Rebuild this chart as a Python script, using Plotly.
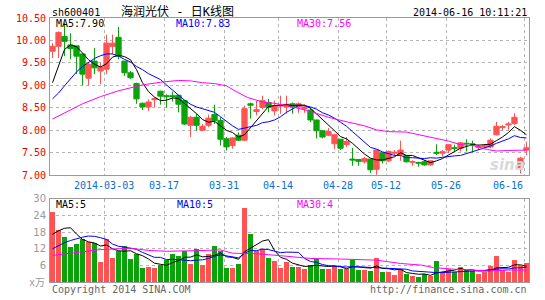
import plotly.graph_objects as go

# ---------------- data ----------------
idx = list(range(1, 81))

opens = [9.76, 9.87, 10.09, 9.90, 9.88, 9.70, 9.16, 9.54, 9.32, 9.36,
         9.87, 10.07, 9.54, 9.28, 9.04, 8.60, 8.52, 8.68, 8.87, 8.77,
         8.77, 8.78, 8.66, 8.11, 8.29, 8.00, 8.11, 8.35, 8.22, 7.81,
         7.66, 7.89, 7.78, 8.59, 8.42, 8.51, 8.62, 8.43, 8.54, 8.52,
         8.59, 8.52, 8.48, 8.45, 8.23, 7.99, 7.89, 7.70, 7.80, 7.68,
         7.36, 7.35, 7.30, 7.36, 7.13, 7.50, 7.32, 7.49, 7.46, 7.44,
         7.29, 7.28, 7.30, 7.23, 7.51, 7.49, 7.56, 7.61, 7.60, 7.71,
         7.70, 7.62, 7.63, 7.63, 7.90, 8.06, 8.12, 8.15, 7.16, 7.56]

closes = [9.87, 10.18, 9.98, 9.82, 9.65, 9.25, 9.47, 9.39, 9.41, 9.94,
          9.94, 9.65, 9.28, 9.17, 8.70, 8.52, 8.63, 8.70, 8.76, 8.75,
          8.75, 8.58, 8.14, 8.29, 8.11, 8.09, 8.27, 8.22, 7.80, 7.63,
          7.83, 7.78, 8.48, 8.56, 8.46, 8.66, 8.51, 8.55, 8.57, 8.58,
          8.52, 8.59, 8.52, 8.23, 7.99, 7.85, 7.97, 7.90, 7.60, 7.75,
          7.34, 7.31, 7.37, 7.12, 7.56, 7.32, 7.53, 7.51, 7.56, 7.30,
          7.30, 7.27, 7.23, 7.32, 7.49, 7.52, 7.68, 7.60, 7.72, 7.70,
          7.68, 7.64, 7.65, 7.78, 8.09, 8.08, 8.14, 8.29, 7.38, 7.61]

highs = [9.94, 10.20, 10.40, 10.16, 9.88, 9.70, 9.50, 9.83, 9.50, 10.13,
         10.13, 10.30, 9.54, 9.32, 9.06, 8.62, 8.69, 8.73, 8.88, 8.80,
         8.86, 8.78, 8.68, 8.32, 8.37, 8.14, 8.35, 8.57, 8.29, 7.85,
         7.85, 7.95, 8.55, 8.62, 8.66, 8.77, 8.70, 8.66, 8.77, 8.77,
         8.62, 8.62, 8.57, 8.50, 8.23, 7.99, 8.05, 7.92, 7.80, 7.85,
         7.61, 7.35, 7.41, 7.36, 7.56, 7.50, 7.55, 7.56, 7.77, 7.44,
         7.33, 7.30, 7.33, 7.33, 7.69, 7.56, 7.68, 7.68, 7.74, 7.80,
         7.77, 7.68, 7.68, 7.82, 8.19, 8.12, 8.19, 8.38, 7.41, 7.75]

lows = [9.61, 9.61, 9.65, 9.58, 9.25, 9.00, 9.00, 9.25, 9.03, 9.25,
        9.69, 9.58, 9.21, 9.14, 8.59, 8.45, 8.43, 8.52, 8.57, 8.50,
        8.64, 8.40, 8.12, 7.85, 7.99, 7.98, 8.07, 8.14, 7.66, 7.55,
        7.59, 7.76, 7.76, 8.26, 8.33, 8.47, 8.40, 8.33, 8.37, 8.37,
        8.37, 8.39, 8.39, 8.18, 7.82, 7.82, 7.87, 7.58, 7.56, 7.63,
        7.21, 7.21, 7.26, 7.05, 7.01, 7.26, 7.30, 7.42, 7.32, 7.28,
        7.21, 7.19, 7.21, 7.21, 7.45, 7.42, 7.49, 7.53, 7.53, 7.53,
        7.50, 7.56, 7.60, 7.60, 7.88, 7.99, 8.00, 8.12, 7.04, 7.45]

volumes = [25.4, 18.8, 16.4, 12.5, 13.6, 15.6, 14.4, 14.2, 7.1, 15.5,
           8.7, 11.2, 12.9, 8.2, 10.0, 5.1, 5.5, 5.1, 6.3, 7.9,
           10.0, 9.3, 11.2, 6.5, 12.1, 6.2, 10.0, 13.2, 11.2, 5.1,
           5.1, 6.4, 26.8, 17.5, 11.2, 12.1, 8.7, 7.6, 5.1, 7.3,
           5.5, 5.5, 4.6, 6.1, 8.2, 4.6, 4.6, 5.7, 4.6, 4.6,
           7.9, 4.3, 4.3, 3.9, 8.6, 3.6, 3.6, 2.5, 4.6, 2.9,
           2.1, 1.8, 2.9, 2.1, 7.5, 3.6, 4.6, 3.6, 5.4, 4.3,
           3.9, 2.9, 3.6, 5.7, 9.3, 4.3, 3.6, 7.9, 5.7, 6.8]

ma5 = [9.06, 9.45, 9.80, 9.90, 9.86, 9.72, 9.57, 9.47, 9.41, 9.48,
       9.63, 9.67, 9.64, 9.57, 9.35, 9.06, 8.86, 8.74, 8.66, 8.67,
       8.72, 8.71, 8.60, 8.50, 8.37, 8.24, 8.18, 8.20, 8.10, 8.00,
       7.95, 7.85, 7.90, 8.06, 8.22, 8.39, 8.53, 8.55, 8.55, 8.57,
       8.55, 8.56, 8.56, 8.49, 8.37, 8.24, 8.11, 7.99, 7.86, 7.81,
       7.71, 7.58, 7.47, 7.38, 7.34, 7.34, 7.38, 7.41, 7.50, 7.44,
       7.44, 7.39, 7.33, 7.28, 7.32, 7.37, 7.45, 7.52, 7.60, 7.64,
       7.68, 7.67, 7.68, 7.69, 7.77, 7.85, 7.95, 8.08, 8.00, 7.90]

ma10 = [8.70, 8.83, 8.99, 9.15, 9.30, 9.42, 9.52, 9.60, 9.66, 9.70,
        9.70, 9.65, 9.58, 9.52, 9.42, 9.35, 9.26, 9.19, 9.13, 9.01,
        8.89, 8.78, 8.67, 8.58, 8.52, 8.48, 8.44, 8.40, 8.30, 8.19,
        8.10, 8.02, 8.05, 8.08, 8.11, 8.17, 8.19, 8.23, 8.30, 8.40,
        8.47, 8.55, 8.55, 8.52, 8.47, 8.39, 8.34, 8.27, 8.18, 8.09,
        7.97, 7.85, 7.73, 7.62, 7.58, 7.52, 7.48, 7.44, 7.44, 7.39,
        7.39, 7.38, 7.37, 7.39, 7.38, 7.40, 7.42, 7.43, 7.44, 7.48,
        7.52, 7.56, 7.60, 7.65, 7.71, 7.76, 7.81, 7.88, 7.84, 7.83]

ma30_idx = [1, 3, 6, 9, 12, 16, 19, 22, 24, 26, 28, 30, 31.5, 33.5, 36, 38, 40,
            43.5, 47, 50, 53, 55, 57, 60, 62.5, 65, 67, 69, 71.5, 73.5, 75, 77, 80]
ma30 = [8.25, 8.38, 8.59, 8.75, 8.88, 9.01, 9.07, 9.11, 9.10, 9.06, 9.04, 8.99,
        8.87, 8.73, 8.63, 8.60, 8.55, 8.44, 8.29, 8.19, 8.10, 8.01, 7.97, 7.96,
        7.89, 7.83, 7.76, 7.68, 7.65, 7.57, 7.54, 7.55, 7.56]

vma5 = [17.2, 18.5, 19.4, 19.6, 17.3, 15.4, 14.5, 14.1, 13.0, 13.4,
        12.0, 11.3, 11.1, 11.3, 10.2, 9.5, 8.3, 6.8, 6.4, 6.0,
        7.0, 7.7, 8.9, 9.0, 9.8, 9.1, 9.2, 9.6, 10.5, 9.1,
        8.9, 8.2, 10.9, 12.2, 13.4, 14.8, 15.3, 11.4, 8.9, 8.2,
        6.8, 6.2, 5.6, 5.8, 6.0, 5.8, 5.6, 5.8, 5.5, 4.8,
        5.5, 5.4, 5.1, 5.0, 5.8, 4.9, 4.8, 4.4, 4.6, 3.4,
        3.1, 2.8, 2.9, 2.4, 3.3, 3.6, 4.1, 4.3, 4.9, 4.3,
        4.4, 4.0, 4.0, 4.1, 5.1, 5.2, 5.3, 6.2, 6.2, 5.7]

vma10 = [12.0, 13.2, 14.2, 15.0, 15.7, 16.2, 16.6, 16.5, 16.0, 15.4,
         13.7, 12.9, 12.6, 12.1, 11.8, 10.7, 9.8, 8.9, 8.9, 8.1,
         8.2, 8.0, 7.9, 7.7, 7.9, 8.0, 8.5, 9.3, 9.8, 9.5,
         9.0, 8.7, 10.3, 11.4, 11.3, 11.9, 11.7, 11.2, 10.6, 10.8,
         10.8, 10.7, 8.5, 7.4, 7.1, 6.3, 5.9, 5.7, 5.7, 5.4,
         5.6, 5.5, 5.5, 5.3, 5.3, 5.2, 5.1, 4.8, 4.8, 4.6,
         4.0, 3.8, 3.7, 3.5, 3.4, 3.4, 3.5, 3.6, 3.7, 3.8,
         4.0, 4.1, 4.2, 4.5, 4.7, 4.8, 4.7, 5.1, 5.1, 5.4]

vma30_idx = [1, 4, 6, 9, 12, 14, 17, 20, 25, 29, 31, 35, 39, 41, 44, 49, 53, 55,
             57, 59, 62.5, 64.5, 68, 71.5, 73.5, 77, 80]
vma30 = [9.6, 10.3, 10.9, 11.7, 12.0, 12.2, 11.4, 11.1, 11.3, 11.6, 10.4, 10.2,
         9.5, 9.0, 8.5, 8.3, 8.2, 7.9, 7.3, 6.7, 6.1, 5.2, 4.6, 4.3, 4.0, 4.3, 4.3]

date_labels = ["2014-03-03", "03-17", "03-31", "04-14", "04-28", "05-12", "05-26", "06-16"]
date_idx = [9, 19, 29, 38, 48, 56, 66, 80]

price_ticks = [7.0, 7.5, 8.0, 8.5, 9.0, 9.5, 10.0, 10.5]
vol_ticks = [6, 12, 18, 24, 30]

# ---------------- styles ----------------
RED = "#ff5353"
GREEN = "#0aa30a"
BORDER = "#9a9a9a"
GRID = "#b4b4b4"
MONO = "DejaVu Sans Mono, Noto Sans CJK SC"
BLUE_TXT = "#0a6fd0"

fig = go.Figure()

fig.add_trace(go.Candlestick(
    x=idx, open=opens, high=highs, low=lows, close=closes,
    increasing=dict(line=dict(color=RED, width=1), fillcolor=RED),
    decreasing=dict(line=dict(color=GREEN, width=1), fillcolor=GREEN),
    whiskerwidth=0, xaxis="x", yaxis="y", hoverinfo="skip"))

fig.add_trace(go.Scatter(x=idx, y=ma5, mode="lines", line=dict(color="#000000", width=1),
                         xaxis="x", yaxis="y", hoverinfo="skip"))
fig.add_trace(go.Scatter(x=idx, y=ma10, mode="lines", line=dict(color="#0000ff", width=1),
                         xaxis="x", yaxis="y", hoverinfo="skip"))
fig.add_trace(go.Scatter(x=ma30_idx, y=ma30, mode="lines", line=dict(color="#ff00ff", width=1),
                         xaxis="x", yaxis="y", hoverinfo="skip"))

bar_colors = [RED if c >= o else GREEN for o, c in zip(opens, closes)]
fig.add_trace(go.Bar(x=idx, y=volumes, marker=dict(color=bar_colors, line=dict(width=0)),
                     width=0.83, xaxis="x2", yaxis="y2", hoverinfo="skip"))
fig.add_trace(go.Scatter(x=idx, y=vma5, mode="lines", line=dict(color="#000000", width=1),
                         xaxis="x2", yaxis="y2", hoverinfo="skip"))
fig.add_trace(go.Scatter(x=idx, y=vma10, mode="lines", line=dict(color="#0000ff", width=1),
                         xaxis="x2", yaxis="y2", hoverinfo="skip"))
fig.add_trace(go.Scatter(x=vma30_idx, y=vma30, mode="lines", line=dict(color="#ff00ff", width=1),
                         xaxis="x2", yaxis="y2", hoverinfo="skip"))

grid_x = [i + 0.6 for i in date_idx[:-1]] + [date_idx[-1] - 0.25]
label_x = grid_x[:-1] + [date_idx[-1] - 3]
xr = [0.58, 80.42]

common_x = dict(range=xr, showline=True, mirror=True, linecolor=BORDER, linewidth=1,
                showgrid=True, gridcolor=GRID, griddash="dot", gridwidth=1,
                tickvals=grid_x, showticklabels=False, ticks="", zeroline=False,
                fixedrange=True)

fig.update_layout(
    width=545, height=300,
    margin=dict(l=50, r=16, t=18, b=15),
    paper_bgcolor="white", plot_bgcolor="white",
    showlegend=False, bargap=0, boxgap=0.12, boxgroupgap=0,
    xaxis=dict(domain=[0, 1], anchor="y", rangeslider=dict(visible=False), **common_x),
    xaxis2=dict(domain=[0, 1], anchor="y2", **common_x),
    yaxis=dict(domain=[0.4045, 1], anchor="x", range=[7.0, 10.5], tickvals=price_ticks,
               ticktext=["%.2f" % v for v in price_ticks],
               tickfont=dict(family=MONO, size=10, color="#ee0000"),
               showline=True, mirror=True, linecolor=BORDER, linewidth=1,
               showgrid=True, gridcolor=GRID, griddash="dot", zeroline=False,
               ticks="", ticklabelstandoff=1, fixedrange=True),
    yaxis2=dict(domain=[0, 0.3146], anchor="x2", range=[0, 30], tickvals=vol_ticks,
                tickfont=dict(family="DejaVu Sans", size=10, color="#999999"),
                showline=True, mirror=True, linecolor=BORDER, linewidth=1,
                showgrid=True, gridcolor=GRID, griddash="dot", zeroline=False,
                ticks="", ticklabelstandoff=1, fixedrange=True),
)

def px_x(px):
    return (px - 50) / 479.0

def px_y(py):
    return (285 - py) / 267.0

ann = []
def text(s, x, y, color="#000000", size=10, xanchor="left", family=MONO, xref="paper"):
    ann.append(dict(text=s, x=x, y=y, xref=xref, yref="paper", showarrow=False,
                    xanchor=xanchor, yanchor="middle",
                    font=dict(family=family, size=size, color=color)))

text("sh600401", px_x(50), px_y(12))
text("海润光伏 - 日K线图", px_x(177), px_y(11), size=12, xanchor="center")
text("2014-06-16 10:11:21", px_x(529), px_y(12), xanchor="right")
text("MA5:%.2f" % ma5[-1], px_x(54), px_y(24))
text("MA10:%.2f" % ma10[-1], px_x(174), px_y(24), color="#0000ff")
text("MA30:%.2f" % ma30[-1], px_x(295), px_y(24), color="#ff00ff")
text("MA5:%d" % int(vma5[-1]), px_x(54), px_y(207))
text("MA10:%d" % int(vma10[-1]), px_x(175), px_y(207), color="#0000ff")
text("MA30:%d" % int(vma30[-1]), px_x(295), px_y(207), color="#ff00ff")
for lab, xv in zip(date_labels, label_x):
    text(lab, xv, px_y(187), color=BLUE_TXT, xanchor="center", xref="x")
text("x万", px_x(37), px_y(286), color="#999999", size=10, xanchor="center")
text("Copyright 2014 SINA.COM", px_x(50), px_y(293), color="#666666")
text("http://finance.sina.com.cn", px_x(529), px_y(293), color="#666666", xanchor="right")
ann.append(dict(text="<b><i>sina</i></b>", x=px_x(507), y=px_y(167), xref="paper", yref="paper",
                showarrow=False, xanchor="center", yanchor="middle",
                font=dict(family="DejaVu Sans", size=15, color="#d9d9d9")))
fig.update_layout(annotations=ann)

fig.write_html("out.html")
